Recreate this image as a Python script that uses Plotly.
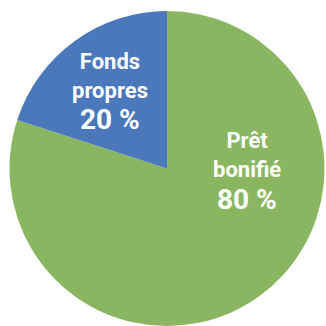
import plotly.graph_objects as go

labels = ["Prêt bonifié", "Fonds propres"]
label_lines = ["Prêt<br>bonifié", "Fonds<br>propres"]
values = [80, 20]
colors = ["#8BB661", "#4A78BA"]
name_pos = [(0.758, 0.526), (0.337, 0.767)]
pct_pos = [(0.758, 0.389), (0.337, 0.633)]

fig = go.Figure(go.Pie(
    labels=labels, values=values, sort=False, direction="clockwise", rotation=0,
    marker=dict(colors=colors, line=dict(width=0)),
    textinfo="none", hoverinfo="label+percent", showlegend=False,
    domain=dict(x=[8/326, 1.0], y=[0.0, 0.966]),
))

for txt, v, (nx, ny), (px, py) in zip(label_lines, values, name_pos, pct_pos):
    fig.add_annotation(
        x=nx, y=ny, xref="paper", yref="paper", showarrow=False, text=txt,
        font=dict(family="Roboto", size=22, color="white", weight="bold"),
        align="center", xanchor="center", yanchor="middle",
    )
    fig.add_annotation(
        x=px, y=py, xref="paper", yref="paper", showarrow=False, text=f"{v} %",
        font=dict(family="Roboto", size=28, color="white", weight="bold"),
        align="center", xanchor="center", yanchor="middle",
    )

fig.update_layout(
    width=326, height=326, margin=dict(l=0, r=0, t=0, b=0),
    paper_bgcolor="white", plot_bgcolor="white",
)
fig.write_html("out.html")
